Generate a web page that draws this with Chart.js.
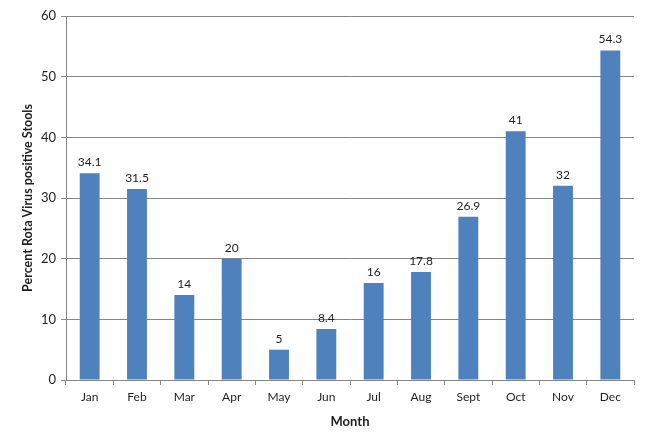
<!DOCTYPE html>
<html lang="en">
<head>
<meta charset="UTF-8">
<title>Rota Virus by Month</title>
<script src="https://cdn.jsdelivr.net/npm/chart.js"></script>
<style>
    * { margin: 0; padding: 0; }
    body { background: #fff; }
    .wrap { width: 650px; height: 434px; }
</style>
</head>
<body>
<div class="wrap"><canvas id="chart" width="650" height="434"></canvas></div>
<script>
const months = ['Jan', 'Feb', 'Mar', 'Apr', 'May', 'Jun', 'Jul', 'Aug', 'Sept', 'Oct', 'Nov', 'Dec'];
const percentPositive = [34.1, 31.5, 14, 20, 5, 8.4, 16, 17.8, 26.9, 41, 32, 54.3];
const yTicks = [0, 10, 20, 30, 40, 50, 60];

const gridGray = '#868686';
const textColor = '#1f1f1f';
const fontFamily = 'Lato, "Open Sans", sans-serif';

// value labels above each bar
const barLabels = {
    id: 'barLabels',
    afterDatasetsDraw(chart) {
        const ctx = chart.ctx;
        const meta = chart.getDatasetMeta(0);
        ctx.save();
        ctx.font = '12px ' + fontFamily;
        ctx.fillStyle = textColor;
        ctx.textAlign = 'center';
        ctx.textBaseline = 'bottom';
        meta.data.forEach((bar, i) => {
            ctx.fillText(String(percentPositive[i]), bar.x, bar.y - 5);
        });
        ctx.restore();
    }
};

new Chart(document.getElementById('chart'), {
    type: 'bar',
    data: {
        labels: months,
        datasets: [{
            data: percentPositive,
            backgroundColor: '#4f81bd',
            barPercentage: 0.42,
            categoryPercentage: 1
        }]
    },
    options: {
        responsive: false,
        animation: false,
        layout: { padding: { top: 16, right: 16, left: 0, bottom: 0 } },
        plugins: { legend: { display: false }, tooltip: { enabled: false } },
        scales: {
            x: {
                grid: { drawOnChartArea: false, color: gridGray, tickLength: 5 },
                border: { color: gridGray },
                ticks: { color: textColor, font: { family: fontFamily, size: 12 }, padding: 5 },
                title: {
                    display: true, text: 'Month', color: textColor,
                    font: { family: fontFamily, size: 13, weight: 'bold' },
                    padding: { top: 0, bottom: 4 }
                },
                afterFit(scale) { scale.height = 54; }
            },
            y: {
                min: 0, max: 60,
                afterBuildTicks(scale) { scale.ticks = yTicks.map(v => ({ value: v })); },
                grid: { color: gridGray, tickLength: 5 },
                border: { color: gridGray },
                ticks: { color: textColor, font: { family: fontFamily, size: 13 }, padding: 5 },
                title: {
                    display: true, text: 'Percent Rota Virus positive Stools', color: textColor,
                    font: { family: fontFamily, size: 12.5, weight: 'bold' },
                    padding: { top: 20, bottom: 0 }
                },
                afterFit(scale) { scale.width = 66; }
            }
        }
    },
    plugins: [barLabels]
});
</script>
</body>
</html>
